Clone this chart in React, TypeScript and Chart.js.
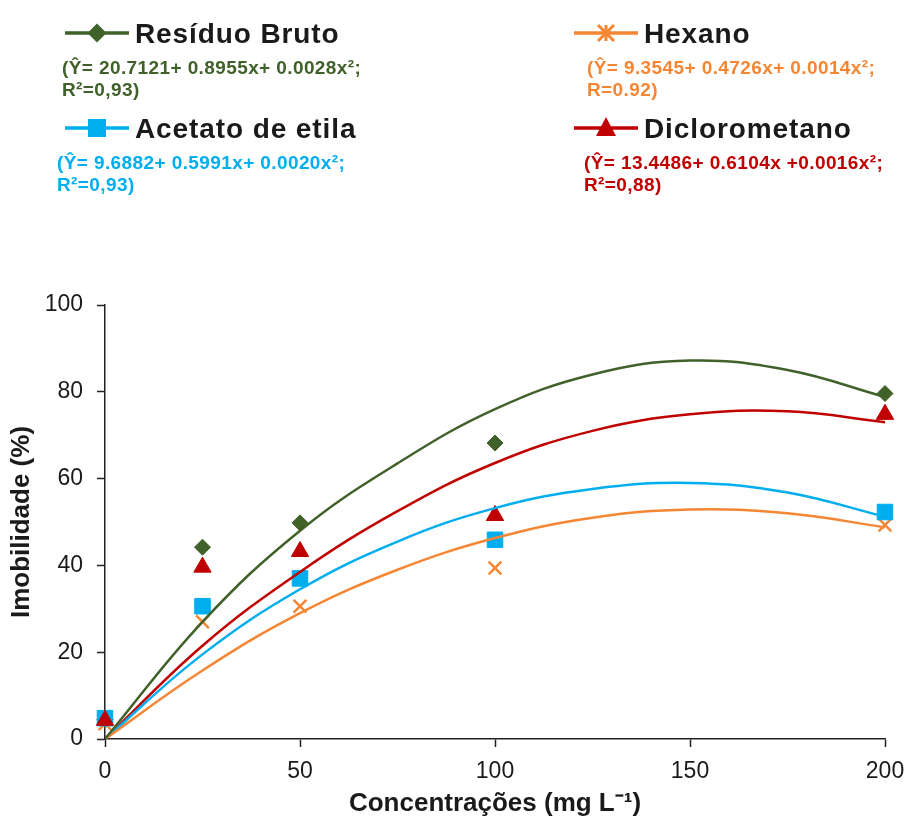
import React, { useEffect, useRef } from "react";
import { Chart, registerables } from "chart.js";

Chart.register(...registerables);

// ---- data ----
const concentrations = [0, 25, 50, 100, 200];
const residuoObs = [4.5, 44.2, 49.8, 68.2, 79.6];
const hexanoObs = [3.5, 27.0, 30.6, 39.4, 49.3];
const acetatoObs = [4.8, 30.6, 37.0, 45.9, 52.3];
const dicloroObs = [4.3, 39.6, 43.2, 51.5, 74.8];

const curveX = [0, 25, 50, 75, 100, 125, 150, 175, 200];
const residuoFit = [0, 27, 48, 63.5, 76, 84, 87.2, 85, 78.8];
const hexanoFit = [0, 15.8, 29, 39, 46.3, 51, 52.9, 52, 48.8];
const acetatoFit = [0, 19.5, 34.5, 45.5, 53.2, 57.6, 59, 56.8, 51.2];
const dicloroFit = [0, 21.5, 38.5, 52.5, 63.6, 71, 74.8, 75.5, 73];

const xTicks = [0, 50, 100, 150, 200];
const yTicks = [0, 20, 40, 60, 80, 100];

const GREEN = "#41612A";
const ORANGE = "#F58634";
const BLUE = "#00AEEF";
const RED = "#C00000";

const series = [
  { name: "Resíduo Bruto", color: GREEN, obs: residuoObs, fit: residuoFit, style: "rectRot", radius: 8, eq1: "(Ŷ= 20.7121+ 0.8955x+ 0.0028x²;", eq2: "R²=0,93)" },
  { name: "Hexano", color: ORANGE, obs: hexanoObs, fit: hexanoFit, style: "crossRot", radius: 9, eq1: "(Ŷ= 9.3545+ 0.4726x+ 0.0014x²;", eq2: "R=0.92)" },
  { name: "Acetato de etila", color: BLUE, obs: acetatoObs, fit: acetatoFit, style: "rect", radius: 11, eq1: "(Ŷ= 9.6882+ 0.5991x+ 0.0020x²;", eq2: "R²=0,93)" },
  { name: "Diclorometano", color: RED, obs: dicloroObs, fit: dicloroFit, style: "triangle", radius: 10, eq1: "(Ŷ= 13.4486+ 0.6104x +0.0016x²;", eq2: "R²=0,88)" },
];

const FONT = "'Liberation Sans', Arial, sans-serif";

function Marker({ kind, color }: { kind: string; color: string }) {
  let m: any = null;
  if (kind === "rectRot") m = <polygon points="32,5.5 41.5,15 32,24.5 22.5,15" fill={color} />;
  if (kind === "rect") m = <rect x={23} y={6} width={18} height={18} fill={color} />;
  if (kind === "triangle") m = <polygon points="32,4 42,23 22,23" fill={color} />;
  if (kind === "crossRot")
    m = (
      <g stroke={color} strokeWidth={3}>
        <line x1={24} y1={7} x2={40} y2={23} />
        <line x1={40} y1={7} x2={24} y2={23} />
        <line x1={32} y1={7} x2={32} y2={23} />
      </g>
    );
  return (
    <svg width={64} height={30} style={{ display: "block" }}>
      <line x1={0} y1={15} x2={64} y2={15} stroke={color} strokeWidth={3.4} />
      {m}
    </svg>
  );
}

function LegendItem({ s, left, top, eqLeft }: any) {
  return (
    <>
      <div style={{ position: "absolute", left: left - 70, top: top, width: 64, height: 30 }}>
        <Marker kind={s.style} color={s.color} />
      </div>
      <div
        style={{
          position: "absolute",
          left,
          top,
          height: 30,
          lineHeight: "30px",
          font: `bold 28px ${FONT}`,
          letterSpacing: "0.9px",
          color: "#1a1a1a",
          whiteSpace: "nowrap",
        }}
      >
        {s.name}
      </div>
      <div
        style={{
          position: "absolute",
          left: eqLeft,
          top: top + 39,
          lineHeight: "23px",
          font: `bold 19px ${FONT}`,
          letterSpacing: "0.4px",
          color: s.color,
          whiteSpace: "nowrap",
        }}
      >
        <div>{s.eq1}</div>
        <div>{s.eq2}</div>
      </div>
    </>
  );
}

export default function App() {
  const ref = useRef<HTMLCanvasElement>(null);

  useEffect(() => {
    if (!ref.current) return;
    const datasets: any[] = [];
    series.forEach((s) => {
      datasets.push({
        label: s.name + " ajuste",
        data: curveX.map((x, i) => ({ x, y: s.fit[i] })),
        showLine: true,
        borderColor: s.color,
        backgroundColor: s.color,
        borderWidth: 2.5,
        pointRadius: 0,
        tension: 0.4,
        order: 0,
      });
    });
    series.forEach((s, k) => {
      datasets.push({
        label: s.name,
        data: concentrations.map((x, i) => ({ x, y: s.obs[i] })),
        showLine: false,
        pointStyle: s.style,
        pointRadius: s.radius,
        borderColor: s.color,
        backgroundColor: s.color,
        pointBorderWidth: s.style === "crossRot" ? 2.5 : 1,
        clip: false,
        order: 10 - k,
      });
    });

    const chart = new Chart(ref.current, {
      type: "scatter",
      data: { datasets },
      options: {
        responsive: false,
        animation: false,
        layout: { padding: { top: 305, right: 23, left: 0, bottom: 0 } },
        plugins: { legend: { display: false }, tooltip: { enabled: false } },
        scales: {
          x: {
            type: "linear",
            min: 0,
            max: 200,
            afterFit: (s: any) => {
              s.height = 80;
              s.paddingLeft = 0;
              s.paddingRight = 0;
            },
            afterBuildTicks: (s: any) => {
              s.ticks = xTicks.map((v) => ({ value: v }));
            },
            ticks: { color: "#1a1a1a", font: { family: FONT, size: 23 }, padding: 11, maxRotation: 0 },
            grid: { display: true, drawOnChartArea: false, drawTicks: true, tickLength: 8, tickColor: "#222", tickWidth: 1.5 },
            border: { display: true, color: "#222", width: 1.5 },
            title: {
              display: true,
              text: "Concentrações (mg L⁻¹)",
              color: "#1a1a1a",
              font: { family: FONT, size: 26, weight: "bold", lineHeight: 1.2 },
              padding: { top: 0, bottom: 0 },
            },
          },
          y: {
            type: "linear",
            min: 0,
            max: 100,
            afterFit: (s: any) => {
              s.width = 105;
              s.paddingTop = 0;
              s.paddingBottom = 0;
            },
            afterBuildTicks: (s: any) => {
              s.ticks = yTicks.map((v) => ({ value: v }));
            },
            ticks: { color: "#1a1a1a", font: { family: FONT, size: 23 }, padding: 14 },
            grid: { display: true, drawOnChartArea: false, drawTicks: true, tickLength: 8, tickColor: "#222", tickWidth: 1.5 },
            border: { display: true, color: "#222", width: 1.5 },
            title: {
              display: true,
              text: "Imobilidade (%)",
              color: "#1a1a1a",
              font: { family: FONT, size: 26, weight: "bold", lineHeight: 1.2 },
              padding: { top: 6, bottom: 0 },
            },
          },
        },
      } as any,
    });
    return () => chart.destroy();
  }, []);

  return (
    <div style={{ position: "absolute", left: 0, top: 0, width: 908, height: 819, background: "#fff", overflow: "hidden" }}>
      <canvas ref={ref} width={908} height={819} style={{ position: "absolute", left: 0, top: 0 }} />
      <LegendItem s={series[0]} left={135} top={18} eqLeft={62} />
      <LegendItem s={series[1]} left={644} top={18} eqLeft={587} />
      <LegendItem s={series[2]} left={135} top={113} eqLeft={57} />
      <LegendItem s={series[3]} left={644} top={113} eqLeft={584} />
    </div>
  );
}
